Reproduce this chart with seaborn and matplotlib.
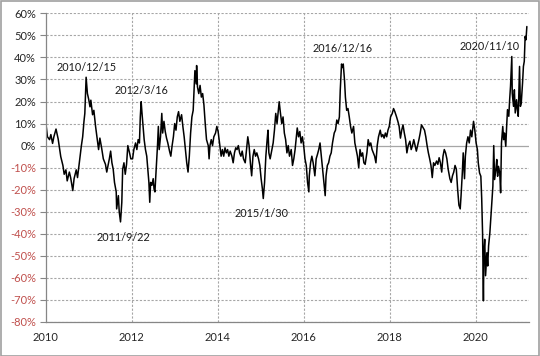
import matplotlib
matplotlib.use("Agg")
import matplotlib.pyplot as plt
import seaborn as sns
import pandas as pd
import numpy as np
from matplotlib.ticker import FuncFormatter, FixedLocator

# decimal years and values (%)
years_2010_11 = [2010.00, 2010.04, 2010.09, 2010.12, 2010.16, 2010.19, 2010.24, 2010.29, 2010.35, 2010.40,
                 2010.43, 2010.47, 2010.50, 2010.55, 2010.58, 2010.63, 2010.66, 2010.71, 2010.74, 2010.78,
                 2010.83, 2010.86, 2010.89, 2010.91, 2010.94, 2010.97, 2011.00, 2011.03, 2011.05, 2011.09,
                 2011.12, 2011.16, 2011.20, 2011.23, 2011.26, 2011.30, 2011.34, 2011.39, 2011.42, 2011.45,
                 2011.48, 2011.51, 2011.54, 2011.57, 2011.60, 2011.64, 2011.65, 2011.69, 2011.71, 2011.74,
                 2011.77, 2011.79, 2011.82, 2011.85, 2011.88, 2011.91, 2011.95, 2011.98]
values_2010_11 = [10.9, 4, 2.7, 5, 1, 4, 7.5, 3, -5, -9,
                  -13, -11, -16, -12, -14.5, -20.4, -15, -11, -14.5, -8,
                  0, 4, 11, 14.6, 31, 23.6, 21, 17.6, 20.6, 14,
                  16, 8.7, 2.7, -1.8, 3.4, -1, -6, -8.5, -12, -9,
                  -6, -2.5, -7.8, -10.7, -16.7, -21, -28.7, -22.7, -30, -34.6,
                  -25.7, -10.7, -7.8, -13, -8.5, 0, -3.3, -6]

years_2012_13 = [2012.02, 2012.05, 2012.09, 2012.12, 2012.15, 2012.18, 2012.20, 2012.22, 2012.24, 2012.26,
                 2012.29, 2012.32, 2012.35, 2012.38, 2012.40, 2012.42, 2012.44, 2012.47, 2012.50, 2012.52,
                 2012.54, 2012.57, 2012.60, 2012.62, 2012.64, 2012.67, 2012.70, 2012.72, 2012.75, 2012.78,
                 2012.81, 2012.84, 2012.88, 2012.91, 2012.94, 2012.97, 2013.00, 2013.03, 2013.06, 2013.09,
                 2013.12, 2013.16, 2013.19, 2013.22, 2013.25, 2013.28, 2013.31, 2013.34, 2013.37, 2013.40,
                 2013.43, 2013.47, 2013.50, 2013.51, 2013.53, 2013.56, 2013.59, 2013.62, 2013.65, 2013.68,
                 2013.71, 2013.74, 2013.78, 2013.80, 2013.82, 2013.85, 2013.88, 2013.91, 2013.95, 2013.98,
                 2014.01]
values_2012_13 = [-6, -1.8, 1.2, -1.8, 2.7, 1.2, 13, 19.9, 14.6, 10,
                  2.7, -1.8, -4.8, -12, -16.7, -25.7, -16.7, -18, -15, -19.7,
                  -21, -10.7, 0, 8.7, -1.8, 4, 14.6, 5.7, 11, 6.4,
                  3.4, 1.2, -2.5, -4.8, 0, 4, 10, 7, 13, 15.4,
                  11, 14, 8.7, 4, -1.8, -7.8, -12, -4.8, 5.7, 13,
                  16, 34, 28, 36.3, 26.6, 23.6, 27.3, 22, 23.6, 18.4,
                  10, 2.7, 0, -6, 0, 2.7, 0, 4, 5.7, 8.7,
                  6.4]

years_2014_15 = [2014.05, 2014.08, 2014.11, 2014.14, 2014.17, 2014.20, 2014.23, 2014.26, 2014.29, 2014.33,
                 2014.36, 2014.39, 2014.42, 2014.45, 2014.48, 2014.51, 2014.54, 2014.57, 2014.60, 2014.64,
                 2014.67, 2014.70, 2014.73, 2014.76, 2014.79, 2014.82, 2014.85, 2014.88, 2014.91, 2014.95,
                 2014.98, 2015.01, 2015.04, 2015.06, 2015.09, 2015.12, 2015.15, 2015.17, 2015.19, 2015.22,
                 2015.26, 2015.29, 2015.32, 2015.35, 2015.38, 2015.41, 2015.43, 2015.46, 2015.49, 2015.52,
                 2015.55, 2015.58, 2015.61, 2015.64, 2015.67, 2015.71, 2015.74, 2015.77, 2015.80, 2015.83,
                 2015.85, 2015.88, 2015.91, 2015.94, 2015.97, 2016.00, 2016.03, 2016.06, 2016.09, 2016.12]
values_2014_15 = [0, -4.8, -1.8, -4.8, -1, -3.3, -1.8, -4.8, -2.5, -4.8,
                  -7.8, -3.3, -1, -1.8, 0, -3.3, -4.8, -2.5, -6, -7.8,
                  -1.8, 4, 0, -7.8, -13.7, -4.8, -1.8, -4.8, -3.3, -6,
                  -9, -15, -19.7, -24, -16.7, -4.8, 2.7, 7, -3.3, -6,
                  -1.8, 1.2, 7, 14.6, 10, 16, 19.9, 14.6, 10, 13,
                  5.7, 2.7, -3.3, 0, -4.8, -1.8, -9, -6, -1.8, 4,
                  8, 4, 6.4, 1.2, 4, 0, -6, -9, -16.7, -21]

years_2016_17 = [2016.13, 2016.16, 2016.19, 2016.22, 2016.26, 2016.29, 2016.32, 2016.35, 2016.38, 2016.41,
                 2016.44, 2016.47, 2016.50, 2016.52, 2016.55, 2016.58, 2016.61, 2016.64, 2016.67, 2016.71,
                 2016.74, 2016.77, 2016.80, 2016.83, 2016.85, 2016.88, 2016.90, 2016.92, 2016.95, 2016.97,
                 2017.00, 2017.03, 2017.06, 2017.09, 2017.12, 2017.16, 2017.19, 2017.22, 2017.25, 2017.28,
                 2017.31, 2017.34, 2017.37, 2017.40, 2017.43, 2017.47, 2017.50, 2017.53, 2017.56, 2017.59,
                 2017.62, 2017.65, 2017.68, 2017.71, 2017.74, 2017.78, 2017.81, 2017.84, 2017.87, 2017.90,
                 2017.93, 2017.96, 2017.99, 2018.02]
values_2016_17 = [-13.7, -7.8, -4.8, -7.8, -13.7, -6, -4, -1.8, 1.2, -4.8,
                  -10.7, -16.7, -22.7, -13.7, -9, -7.8, -4.8, -3.3, 1.2, 5.7,
                  7, 11.6, 10, 13, 25, 37, 35.4, 37, 29.5, 22,
                  16, 16.8, 13, 8.7, 5.7, 8.7, 1.2, -1.8, -4.8, -10,
                  -1.8, -4.8, -3.3, -7.8, -8.5, -3.3, 2.7, 0, 1.2, -1.8,
                  -3.3, -4.8, -7.8, 0, 4, 7, 4, 5, 3.4, 5.7,
                  4, 7, 8.7, 13]

years_2018_19 = [2018.06, 2018.09, 2018.12, 2018.16, 2018.19, 2018.22, 2018.25, 2018.28, 2018.31, 2018.34,
                 2018.37, 2018.40, 2018.43, 2018.47, 2018.50, 2018.53, 2018.56, 2018.59, 2018.62, 2018.65,
                 2018.68, 2018.71, 2018.74, 2018.78, 2018.81, 2018.84, 2018.87, 2018.90, 2018.93, 2018.96,
                 2018.99, 2019.02, 2019.05, 2019.09, 2019.12, 2019.15, 2019.18, 2019.21, 2019.24, 2019.27,
                 2019.30, 2019.33, 2019.36, 2019.40, 2019.43, 2019.46, 2019.49, 2019.52, 2019.55, 2019.58,
                 2019.61, 2019.64, 2019.66, 2019.69, 2019.71, 2019.74, 2019.76, 2019.79, 2019.82, 2019.85,
                 2019.88, 2019.91, 2019.95, 2019.98, 2020.01, 2020.04]
values_2018_19 = [14.6, 16.8, 15.4, 13, 11, 8.7, 3.4, 7, 9.4, 5.7,
                  2.7, -3.3, 0, 2, -1.8, 0, 2.7, 0, -2.5, 0,
                  2.7, 5.7, 9.4, 8, 7, 4, 0, -3.3, -6, -9,
                  -14.5, -7.8, -9, -7, -8.5, -5.5, -7.8, -12, -4.8, -1.8,
                  -3.3, -6, -10.7, -15, -16.7, -13.7, -12, -9, -10.7, -19.7,
                  -27, -28.7, -22.7, -12, -3.3, -15, -4.8, 1.2, 4, 1.2,
                  7, 4, 11, 7, 1.2, -1.8]

years_2020_21 = [2020.06, 2020.09, 2020.12, 2020.14, 2020.16, 2020.18, 2020.19, 2020.21, 2020.23, 2020.26,
                 2020.28, 2020.30, 2020.33, 2020.36, 2020.40, 2020.42, 2020.44, 2020.47, 2020.49, 2020.51,
                 2020.53, 2020.56, 2020.58, 2020.60, 2020.63, 2020.65, 2020.67, 2020.70, 2020.72, 2020.74,
                 2020.77, 2020.79, 2020.81, 2020.84, 2020.85, 2020.88, 2020.90, 2020.92, 2020.95, 2020.97,
                 2020.99, 2021.02, 2021.04, 2021.06, 2021.09, 2021.11, 2021.13, 2021.15, 2021.17, 2021.19]
values_2020_21 = [-7.8, -12.4, -13.9, -24, -39.5, -70.4, -48.6, -42.5, -59, -48.6,
                  -54.6, -45.5, -39.5, -30.5, -18.4, 0, -15.4, -10.9, -6.3, -13.9,
                  -9.4, -12.4, -21.4, 1.2, 8.7, 2.7, 5.7, -0.3, 8.7, 16.3,
                  13.3, 20.8, 26.8, 40.4, 23.8, 17.8, 25.3, 14.8, 20.8, 16.3,
                  13.3, 35.9, 17.8, 19.3, 28.4, 35.9, 38.2, 49.5, 48, 54]

x_ticks = [2010, 2012, 2014, 2016, 2018, 2020]
y_ticks = [-80, -70, -60, -50, -40, -30, -20, -10, 0, 10, 20, 30, 40, 50, 60]

ann_labels = ["2010/12/15", "2012/3/16", "2011/9/22", "2015/1/30", "2016/12/16", "2020/11/10"]
ann_x = [2010.96, 2012.23, 2011.80, 2015.03, 2016.90, 2020.33]
ann_y = [35.6, 25.2, -41.9, -31.0, 44.1, 45.0]

df = pd.DataFrame({
    "year": years_2010_11 + years_2012_13 + years_2014_15 + years_2016_17 + years_2018_19 + years_2020_21,
    "value": values_2010_11 + values_2012_13 + values_2014_15 + values_2016_17 + values_2018_19 + values_2020_21,
})

sns.set_theme(style="white")
plt.rcParams["font.family"] = ["Lato", "DejaVu Sans"]

fig = plt.figure(figsize=(5.4, 3.56), dpi=100)
ax = fig.add_axes([45.7 / 540, 34 / 356, (529 - 45.7) / 540, (322 - 13.3) / 356])

sns.lineplot(data=df, x="year", y="value", ax=ax, color="black", linewidth=1.1)

ax.set_xlim(2010, 2021.24)
ax.set_ylim(-80, 60)
ax.xaxis.set_major_locator(FixedLocator(x_ticks))
ax.yaxis.set_major_locator(FixedLocator(y_ticks))
ax.xaxis.set_major_formatter(FuncFormatter(lambda v, p: f"{int(round(v))}"))
ax.set_xlabel("")
ax.set_ylabel("")

grid_col = "#a6a6a6"
for v in y_ticks:
    if v == 0:
        ax.axhline(v, color=grid_col, linewidth=0.9, linestyle="-", zorder=0)
    else:
        ax.axhline(v, color=grid_col, linewidth=0.8, linestyle=(0, (2, 1.5)), zorder=0)
for v in x_ticks[1:]:
    ax.axvline(v, color=grid_col, linewidth=0.8, linestyle=(0, (2, 1.5)), zorder=0)

for s in ["top", "right"]:
    ax.spines[s].set_visible(False)
for s in ["left", "bottom"]:
    ax.spines[s].set_color("#868686")
    ax.spines[s].set_linewidth(0.9)

ax.tick_params(axis="y", length=4, width=0.8, color="#868686", labelsize=8, pad=3, left=True)
ax.tick_params(axis="x", length=0, labelsize=8, pad=7)
ax.set_yticklabels([f"{v}%" for v in y_ticks])
for lab, v in zip(ax.get_yticklabels(), y_ticks):
    lab.set_color("#C0504D" if v < 0 else "#262626")
for lab in ax.get_xticklabels():
    lab.set_color("#262626")

for t, x, y in zip(ann_labels, ann_x, ann_y):
    ax.text(x, y, t, ha="center", va="center", fontsize=7.8, color="#1a1a1a")

# outer border
fig.patches.append(plt.Rectangle((0.001, 0.001), 0.997, 0.996, transform=fig.transFigure,
                                 fill=False, edgecolor="#a0a0a0", linewidth=1.2))

fig.savefig("out.png", dpi=100)
